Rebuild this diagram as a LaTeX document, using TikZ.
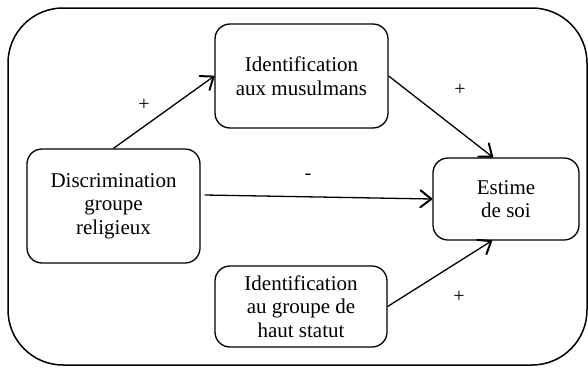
\documentclass[tikz,border=0pt]{standalone}
\usepackage{fontspec}
\setmainfont{Liberation Serif}
\usetikzlibrary{arrows.meta}

\begin{document}
\begin{tikzpicture}[>={Straight Barb[length=11pt,width=17pt,line width=2pt,round]},x=1pt,y=-1pt,
  box/.style={draw,line width=1.3pt,rounded corners=15pt,align=center,
    font=\fontsize{21}{23.5}\selectfont,inner sep=0pt},
  sign/.style={font=\fontsize{20}{20}\selectfont,inner sep=0pt},
  link/.style={line width=1.3pt,->}]
  % Frame
  \useasboundingbox (0,0) rectangle (588,367);
  \draw[line width=1.5pt,rounded corners=55pt] (8,8) rectangle (587,365);
  %
  % Boxes
  \node[box,minimum width=173pt,minimum height=114pt] (discr) at (113.5,206)
    {Discrimination\\groupe\\religieux};
  \node[box,minimum width=173pt,minimum height=104pt] (muslim) at (301.5,76)
    {Identification\\aux musulmans};
  \node[box,minimum width=172pt,minimum height=81pt] (status) at (301,306.5)
    {Identification\\au groupe de\\haut statut};
  \node[box,minimum width=146pt,minimum height=82pt] (esteem) at (506,199)
    {Estime\\de soi};
  %
  % Arrows
  \draw[link] (discr.north) -- (muslim.west);
  \draw[link] (muslim.east) -- ([xshift=-13pt]esteem.north);
  \draw[link] ([xshift=4pt,yshift=11pt]discr.east) -- (esteem.west);
  \draw[link] (status.east) -- ([xshift=-14pt]esteem.south);
  %
  % Labels
  \node[sign] (s1) at (144,105) {+};
  \node[sign] (s2) at (460,90) {+};
  \node[sign] (s3) at (308,177) {-};
  \node[sign] (s4) at (459,297) {+};
  %
\end{tikzpicture}
\end{document}
